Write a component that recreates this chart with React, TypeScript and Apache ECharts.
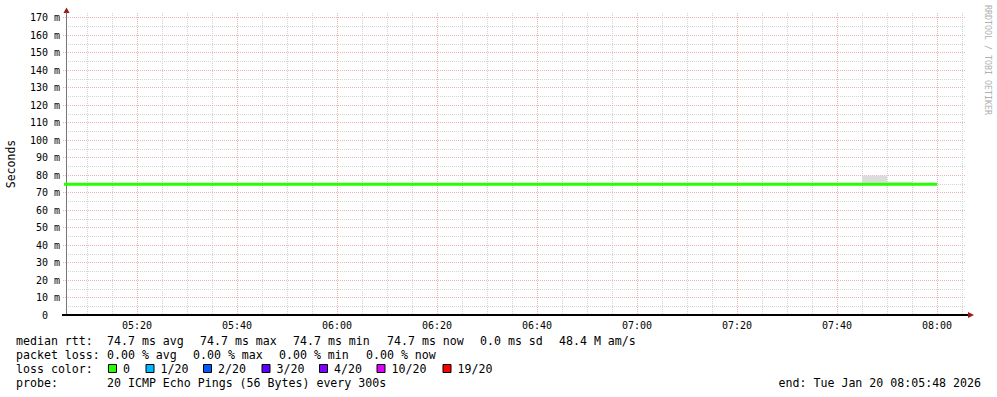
import React, { useEffect, useRef } from "react";
import * as echarts from "echarts";

// ---- data ----
const xMin = 305.8; // 05:05:48 in minutes since midnight
const xMax = 485.8; // 08:05:48
const yMax = 172.7;

const xMajorTicks = [320, 340, 360, 380, 400, 420, 440, 460, 480];
const xMinorTicks = [310, 315, 325, 330, 335, 345, 350, 355, 365, 370, 375, 385, 390, 395, 405, 410, 415, 425, 430, 435, 445, 450, 455, 465, 470, 475, 485];
const yMajorTicks = [0, 10, 20, 30, 40, 50, 60, 70, 80, 90, 100, 110, 120, 130, 140, 150, 160, 170];
const yMinorTicks = [5, 15, 25, 35, 45, 55, 65, 75, 85, 95, 105, 115, 125, 135, 145, 155, 165];

const medianTimes = [305, 310, 315, 320, 325, 330, 335, 340, 345, 350, 355, 360, 365, 370, 375, 380, 385, 390, 395, 400, 405, 410, 415, 420, 425, 430, 435, 440, 445, 450, 455, 460, 465, 470, 475, 480];
const medianValues = [74.7, 74.7, 74.7, 74.7, 74.7, 74.7, 74.7, 74.7, 74.7, 74.7, 74.7, 74.7, 74.7, 74.7, 74.7, 74.7, 74.7, 74.7, 74.7, 74.7, 74.7, 74.7, 74.7, 74.7, 74.7, 74.7, 74.7, 74.7, 74.7, 74.7, 74.7, 74.7, 74.7, 74.7, 74.7, 74.7];

const smokeStart = [465, 470];
const smokeEnd = [470, 475];
const smokeLow = [74.7, 74.7];
const smokeHigh = [79.7, 76.2];

const line1 = ["median rtt:", "74.7 ms avg", "74.7 ms max", "74.7 ms min", "74.7 ms now", "0.0 ms sd", "48.4 M am/s"];
const line2 = ["packet loss:", "0.00 % avg", "0.00 % max", "0.00 % min", "0.00 % now"];
const lossTitle = "loss color:";
const lossLabels = ["0", "1/20", "2/20", "3/20", "4/20", "10/20", "19/20"];
const lossColors = ["#26ff00", "#00b8ff", "#0059ff", "#5e00ff", "#7e00ff", "#dd00ff", "#ff0000"];
const probeTitle = "probe:";
const probeText = "20 ICMP Echo Pings (56 Bytes) every 300s";
const endText = "end: Tue Jan 20 08:05:48 2026";
const watermark = "RRDTOOL / TOBI OETIKER";
const yTitle = "Seconds";

// ---- layout ----
const line1X = [16, 107, 200, 293, 387, 480, 559];
const line2X = [16, 107, 193, 279, 366];
const lossX = [123, 160.5, 218, 276.5, 334, 391.5, 457.5];
const MONO = "DejaVu Sans Mono";
const LEG_FONT = `11.6px "${MONO}"`;

function hhmm(v: number): string {
  const h = Math.floor(v / 60);
  const m = Math.round(v - h * 60);
  return String(h).padStart(2, "0") + ":" + String(m).padStart(2, "0");
}

function txt(text: string, x: number, y: number, extra: any = {}) {
  return {
    type: "text",
    x,
    y,
    silent: true,
    style: { text, font: LEG_FONT, fill: "#000", verticalAlign: "middle", align: "left", ...extra },
  };
}

export default function App() {
  const ref = useRef<HTMLDivElement>(null);
  useEffect(() => {
    if (!ref.current) return;
    const chart = echarts.init(ref.current, undefined, { renderer: "svg" });
    const majorColor = "#eeb2b2";
    const minorColor = "#d4d4d4";

    const graphics: any[] = [];
    line1.forEach((t, i) => graphics.push(txt(t, line1X[i], 341)));
    line2.forEach((t, i) => graphics.push(txt(t, line2X[i], 355)));
    graphics.push(txt(lossTitle, 16, 369));
    lossLabels.forEach((t, i) => {
      graphics.push({
        type: "rect",
        silent: true,
        shape: { x: lossX[i] - 14.5, y: 364.5, width: 8, height: 8 },
        style: { fill: lossColors[i], stroke: "#000", lineWidth: 1 },
      });
      graphics.push(txt(t, lossX[i], 369));
    });
    graphics.push(txt(probeTitle, 16, 383));
    graphics.push(txt(probeText, 107, 383));
    graphics.push(txt(endText, 981, 383, { align: "right" }));
    graphics.push({
      type: "text",
      x: 987.5,
      y: 5,
      rotation: -Math.PI / 2,
      silent: true,
      style: { text: watermark, font: `8.3px "${MONO}"`, fill: "#b0b0b0", verticalAlign: "middle", align: "left" },
    });
    graphics.push({
      type: "text",
      x: 11,
      y: 164,
      rotation: Math.PI / 2,
      silent: true,
      style: { text: yTitle, font: `11.5px "${MONO}"`, fill: "#000", verticalAlign: "middle", align: "center" },
    });
    // axis arrows
    graphics.push({
      type: "polygon",
      silent: true,
      shape: { points: [[968, 312], [974, 315], [968, 318]] },
      style: { fill: "#9a1a1a" },
    });
    graphics.push({
      type: "polygon",
      silent: true,
      shape: { points: [[63.5, 13], [66.5, 7.5], [69.5, 13]] },
      style: { fill: "#9a1a1a" },
    });
    graphics.push({
      type: "line",
      silent: true,
      shape: { x1: 62, y1: 315, x2: 968, y2: 315 },
      style: { stroke: "#000", lineWidth: 2 },
      z: 10,
    });

    const option: any = {
      animation: false,
      backgroundColor: "#ffffff",
      grid: { left: 66, right: 31, top: 13, bottom: 82, outerBoundsMode: "none" },
      xAxis: [
        {
          type: "value",
          min: xMin,
          max: xMax,
          position: "bottom",
          axisLine: { show: false },
          axisTick: { show: false, customValues: xMajorTicks },
          axisLabel: {
            customValues: xMajorTicks,
            formatter: (v: number) => hhmm(v),
            fontFamily: MONO,
            fontSize: 10,
            color: "#000",
            margin: 5,
          },
          splitLine: { show: true, lineStyle: { color: majorColor, type: "dotted", width: 1 } },
          z: 3,
        },
        {
          type: "value",
          min: xMin,
          max: xMax,
          position: "top",
          axisLine: { show: false },
          axisTick: { show: false, customValues: xMinorTicks },
          axisLabel: { show: false, customValues: xMinorTicks },
          splitLine: { show: true, lineStyle: { color: minorColor, type: "dotted", width: 1 } },
          z: 2,
        },
      ],
      yAxis: [
        {
          type: "value",
          min: 0,
          max: yMax,
          axisLine: { show: true, lineStyle: { color: "#777", width: 1 } },
          axisTick: { show: true, length: 3, customValues: yMajorTicks, lineStyle: { color: majorColor, type: "dotted" } },
          axisLabel: {
            customValues: yMajorTicks,
            formatter: (v: number) => (v === 0 ? "{z|0}" : `${v} m`),
            fontFamily: MONO,
            fontSize: 10,
            color: "#000",
            margin: 6,
            rich: { z: { fontFamily: MONO, fontSize: 10, color: "#000", padding: [0, 12, 0, 0] } },
          },
          splitLine: { show: true, lineStyle: { color: majorColor, type: "dotted", width: 1 } },
          z: 3,
        },
        {
          type: "value",
          min: 0,
          max: yMax,
          position: "left",
          axisLine: { show: false },
          axisTick: { show: false, customValues: yMinorTicks },
          axisLabel: { show: false, customValues: yMinorTicks },
          splitLine: { show: true, lineStyle: { color: minorColor, type: "dotted", width: 1 } },
          z: 2,
        },
      ],
      series: [
        {
          type: "custom",
          xAxisIndex: 0,
          yAxisIndex: 0,
          z: 4,
          encode: { x: [0, 1], y: [2, 3] },
          data: smokeStart.map((s, i) => [s, smokeEnd[i], smokeLow[i], smokeHigh[i]]),
          renderItem: (params: any, api: any) => {
            const p0 = api.coord([api.value(0), api.value(3)]);
            const p1 = api.coord([api.value(1), api.value(2)]);
            return {
              type: "rect",
              shape: { x: p0[0], y: p0[1], width: p1[0] - p0[0], height: p1[1] - p0[1] },
              style: { fill: "#dcdcdc" },
            };
          },
        },
        {
          type: "line",
          xAxisIndex: 0,
          yAxisIndex: 0,
          z: 5,
          showSymbol: false,
          symbol: "none",
          clip: true,
          lineStyle: { color: "#26ff00", width: 3 },
          data: medianTimes.map((t, i) => [t, medianValues[i]]),
        },
      ],
      graphic: graphics,
    };
    chart.setOption(option);
    return () => chart.dispose();
  }, []);
  return <div ref={ref} style={{ position: "absolute", left: 0, top: 0, width: 997, height: 397 }} />;
}
